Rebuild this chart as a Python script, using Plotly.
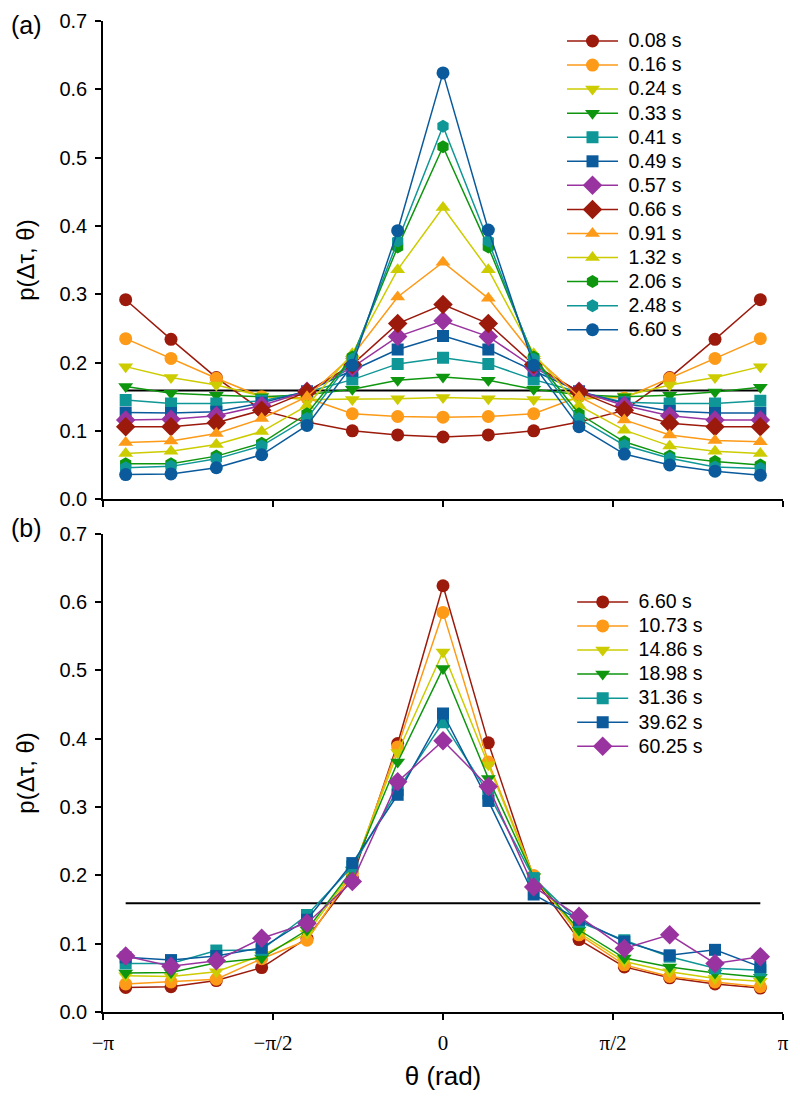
import numpy as np
import plotly.graph_objects as go

# angle bins: 15 bins of width 2*pi/15, centres k*2*pi/15
bin_index = list(range(-7, 8))
theta = [k * 2 * np.pi / 15 for k in bin_index]
uniform_level = 1 / (2 * np.pi)

# ---- panel (a): short lag times ----
labels_a = ["0.08 s", "0.16 s", "0.24 s", "0.33 s", "0.41 s", "0.49 s", "0.57 s",
            "0.66 s", "0.91 s", "1.32 s", "2.06 s", "2.48 s", "6.60 s"]
p_008 = [0.292, 0.234, 0.178, 0.130, 0.113, 0.100, 0.094, 0.091, 0.094, 0.100, 0.113, 0.130, 0.178, 0.234, 0.292]
p_016 = [0.235, 0.206, 0.177, 0.150, 0.148, 0.125, 0.121, 0.120, 0.121, 0.125, 0.150, 0.148, 0.177, 0.206, 0.235]
p_024 = [0.194, 0.178, 0.167, 0.151, 0.146, 0.146, 0.147, 0.149, 0.147, 0.146, 0.146, 0.151, 0.167, 0.178, 0.194]
p_033 = [0.165, 0.155, 0.152, 0.150, 0.153, 0.161, 0.174, 0.179, 0.174, 0.161, 0.153, 0.150, 0.152, 0.157, 0.164]
p_041 = [0.145, 0.140, 0.140, 0.144, 0.157, 0.175, 0.198, 0.207, 0.198, 0.175, 0.157, 0.142, 0.140, 0.140, 0.144]
p_049 = [0.127, 0.126, 0.128, 0.141, 0.158, 0.188, 0.219, 0.239, 0.219, 0.188, 0.158, 0.140, 0.129, 0.126, 0.126]
p_057 = [0.116, 0.117, 0.122, 0.137, 0.158, 0.193, 0.238, 0.261, 0.238, 0.193, 0.158, 0.137, 0.122, 0.116, 0.116]
p_066 = [0.106, 0.106, 0.112, 0.130, 0.157, 0.197, 0.257, 0.285, 0.257, 0.197, 0.157, 0.130, 0.111, 0.106, 0.106]
p_091 = [0.083, 0.085, 0.096, 0.118, 0.150, 0.210, 0.296, 0.347, 0.294, 0.210, 0.150, 0.116, 0.094, 0.086, 0.084]
p_132 = [0.067, 0.070, 0.080, 0.099, 0.137, 0.213, 0.336, 0.427, 0.336, 0.213, 0.137, 0.101, 0.078, 0.070, 0.067]
p_206 = [0.052, 0.052, 0.063, 0.082, 0.125, 0.208, 0.369, 0.516, 0.369, 0.208, 0.125, 0.084, 0.063, 0.055, 0.050]
p_248 = [0.046, 0.048, 0.059, 0.078, 0.118, 0.205, 0.378, 0.546, 0.378, 0.205, 0.118, 0.079, 0.060, 0.047, 0.045]
p_660 = [0.036, 0.037, 0.046, 0.065, 0.108, 0.196, 0.393, 0.624, 0.394, 0.196, 0.106, 0.066, 0.050, 0.041, 0.035]

# ---- panel (b): long lag times ----
labels_b = ["6.60 s", "10.73 s", "14.86 s", "18.98 s", "31.36 s", "39.62 s", "60.25 s"]
p_1073 = [0.041, 0.044, 0.048, 0.078, 0.105, 0.203, 0.388, 0.585, 0.366, 0.200, 0.113, 0.069, 0.052, 0.044, 0.037]
p_1486 = [0.053, 0.052, 0.059, 0.083, 0.115, 0.205, 0.380, 0.527, 0.362, 0.198, 0.116, 0.074, 0.059, 0.049, 0.045]
p_1898 = [0.057, 0.058, 0.072, 0.079, 0.120, 0.208, 0.366, 0.503, 0.342, 0.198, 0.120, 0.079, 0.066, 0.057, 0.051]
p_3136 = [0.071, 0.071, 0.090, 0.091, 0.142, 0.213, 0.325, 0.424, 0.320, 0.196, 0.132, 0.105, 0.081, 0.064, 0.061]
p_3962 = [0.080, 0.076, 0.082, 0.094, 0.135, 0.218, 0.318, 0.437, 0.309, 0.172, 0.135, 0.103, 0.083, 0.091, 0.066]
p_6025 = [0.082, 0.067, 0.075, 0.108, 0.130, 0.191, 0.337, 0.397, 0.330, 0.183, 0.140, 0.093, 0.113, 0.071, 0.081]

series_a = [p_008, p_016, p_024, p_033, p_041, p_049, p_057,
            p_066, p_091, p_132, p_206, p_248, p_660]
series_b = [p_660, p_1073, p_1486, p_1898, p_3136, p_3962, p_6025]

DARKRED = "#9b1a0c"
ORANGE = "#fd9a17"
YELLOW = "#cccc00"
GREEN = "#0f960f"
TEAL = "#0f9696"
BLUE = "#0a5a9c"
PURPLE = "#9933a0"

colors_a = [DARKRED, ORANGE, YELLOW, GREEN, TEAL, BLUE, PURPLE,
            DARKRED, ORANGE, YELLOW, GREEN, TEAL, BLUE]
symbols_a = ["circle", "circle", "triangle-down", "triangle-down", "square", "square", "diamond",
             "diamond", "triangle-up", "triangle-up", "hexagon", "hexagon", "circle"]
colors_b = [DARKRED, ORANGE, YELLOW, GREEN, TEAL, BLUE, PURPLE]
symbols_b = ["circle", "circle", "triangle-down", "triangle-down", "square", "square", "diamond"]
marker_size = {"circle": 13, "triangle-down": 13, "triangle-up": 13, "square": 12,
               "diamond": 15, "hexagon": 13}

SANS = "Liberation Sans, Arial, sans-serif"
SERIF = "Liberation Serif, Times New Roman, serif"

fig = go.Figure()


def add_panel(series, labels, colors, symbols, xa, ya, legend_name):
    # reference level of a uniform distribution
    fig.add_trace(go.Scatter(
        x=[theta[0], theta[-1]], y=[uniform_level, uniform_level],
        mode="lines", line=dict(color="black", width=2),
        xaxis=xa, yaxis=ya, showlegend=False, hoverinfo="skip"
    ))
    for vals, name, col, sym in zip(series, labels, colors, symbols):
        fig.add_trace(go.Scatter(
            x=theta, y=vals,
            name='<span style="font-size:19.5px">&nbsp;%s</span>' % name,
            mode="lines+markers",
            line=dict(color=col, width=1.5),
            marker=dict(color=col, symbol=sym, size=marker_size[sym], line=dict(width=0)),
            xaxis=xa, yaxis=ya, legend=legend_name
        ))


add_panel(series_a, labels_a, colors_a, symbols_a, "x", "y", "legend")
add_panel(series_b, labels_b, colors_b, symbols_b, "x2", "y2", "legend2")

x_ticks = [-np.pi, -np.pi / 2, 0, np.pi / 2, np.pi]
x_text = ["\u2212\u03c0", "\u2212\u03c0/2", "0", "\u03c0/2", "\u03c0"]

axis_common = dict(showline=True, linecolor="black", linewidth=1.5, ticks="outside",
                   ticklen=6, tickwidth=1.5, tickcolor="black", showgrid=False,
                   zeroline=False, mirror=False, automargin=False)

xa = dict(axis_common, range=[-np.pi, np.pi], tickvals=x_ticks, ticktext=x_text,
          domain=[0, 1])
ya = dict(axis_common, range=[0, 0.7], dtick=0.1, tickformat=".1f", ticklabelstandoff=4,
          tickfont=dict(family=SANS, size=20, color="black"),
          title=dict(text="p(\u0394\u03c4, \u03b8)", font=dict(family=SANS, size=24, color="black"),
                     standoff=18))

legend_common = dict(xanchor="left", yanchor="top", bgcolor="rgba(0,0,0,0)",
                     font=dict(family=SANS, size=16.2, color="black"),
                     tracegroupgap=0, itemwidth=51)

fig.update_layout(
    width=800, height=1099,
    paper_bgcolor="white", plot_bgcolor="white",
    margin=dict(l=95, r=25, t=13, b=95, autoexpand=False),
    xaxis=dict(xa, anchor="y", showticklabels=False),
    yaxis=dict(ya, anchor="x", domain=[0.5175, 1]),
    xaxis2=dict(xa, anchor="y2", ticklabelstandoff=5,
                tickfont=dict(family=SERIF, size=21, color="black"),
                title=dict(text="\u03b8 (rad)", font=dict(family=SANS, size=26, color="black"),
                           standoff=13)),
    yaxis2=dict(ya, anchor="x2", domain=[0, 0.4825]),
    legend=dict(legend_common, x=0.675, y=0.997),
    legend2=dict(legend_common, x=0.69, y=0.431),
    annotations=[
        dict(text="(a)", xref="paper", yref="paper", x=-0.138, y=1.0, xanchor="left",
             yanchor="top", yshift=12, showarrow=False, font=dict(family=SANS, size=25, color="black")),
        dict(text="(b)", xref="paper", yref="paper", x=-0.138, y=0.4825, xanchor="left",
             yanchor="top", yshift=22, showarrow=False, font=dict(family=SANS, size=25, color="black")),
    ],
)

fig.write_html("out.html")
